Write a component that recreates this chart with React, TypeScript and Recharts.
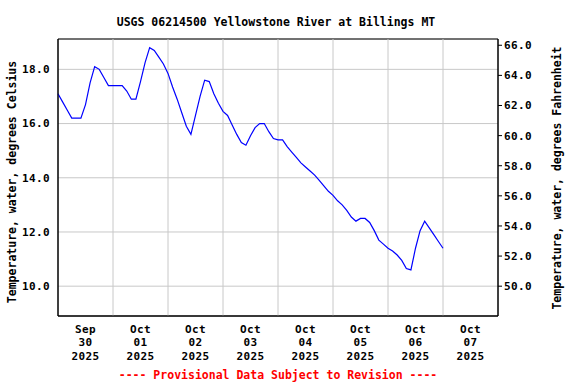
import React from 'react';
import {
  LineChart,
  Line,
  XAxis,
  YAxis,
  CartesianGrid,
  ReferenceLine,
  ReferenceArea,
} from 'recharts';

const title = 'USGS 06214500 Yellowstone River at Billings MT';
const leftLabel = 'Temperature, water, degrees Celsius';
const rightLabel = 'Temperature, water, degrees Fahrenheit';
const footer = '---- Provisional Data Subject to Revision ----';

// water temperature, deg C, every 2 hours from Sep 30 00:00
const tempC = [
  17.1, 16.8, 16.5, 16.2, 16.2, 16.2, 16.7, 17.5, 18.1, 18.0, 17.7, 17.4,
  17.4, 17.4, 17.4, 17.2, 16.9, 16.9, 17.55, 18.25, 18.8, 18.7, 18.45, 18.2,
  17.85, 17.35, 16.9, 16.4, 15.9, 15.6, 16.3, 17.0, 17.6, 17.55, 17.1, 16.75,
  16.45, 16.3, 15.95, 15.6, 15.3, 15.2, 15.55, 15.85, 16.0, 16.0, 15.7, 15.45,
  15.4, 15.4, 15.15, 14.95, 14.75, 14.55, 14.4, 14.25, 14.1, 13.9, 13.7, 13.5,
  13.35, 13.15, 13.0, 12.8, 12.55, 12.4, 12.5, 12.5, 12.35, 12.05, 11.7, 11.55,
  11.4, 11.3, 11.15, 10.95, 10.65, 10.6, 11.4, 12.05, 12.4, 12.15, 11.9, 11.65,
  11.4,
];

const dayMonths = ['Sep', 'Oct', 'Oct', 'Oct', 'Oct', 'Oct', 'Oct', 'Oct'];
const dayNums = ['30', '01', '02', '03', '04', '05', '06', '07'];
const dayYears = ['2025', '2025', '2025', '2025', '2025', '2025', '2025', '2025'];
const noonHours = [12, 36, 60, 84, 108, 132, 156, 180];
const midnightHours = [24, 48, 72, 96, 120, 144, 168];

const celsiusTicks = [10, 12, 14, 16, 18];
const fahrenheitTicks = [50, 52, 54, 56, 58, 60, 62, 64, 66];
const cDomain = [8.9, 19.12];
const fDomain = cDomain.map(c => c * 1.8 + 32);

const data = tempC.map((c, i) => ({ h: i * 2, c }));

const font = '"DejaVu Sans Mono", monospace';
const tickStyle = { fill: '#000', fontSize: 11, fontFamily: font, fontWeight: 'bold', letterSpacing: 0.4 };

const DayTick = (props: any) => {
  const { x, y, payload } = props;
  const i = noonHours.indexOf(payload.value);
  if (i < 0) return null;
  return (
    <text x={x} y={y} textAnchor="middle" fill="#000" fontSize={11} fontFamily={font} fontWeight="bold" letterSpacing={0.4}>
      <tspan x={x} dy={17}>{dayMonths[i]}</tspan>
      <tspan x={x} dy={13.4}>{dayNums[i]}</tspan>
      <tspan x={x} dy={13.4}>{dayYears[i]}</tspan>
    </text>
  );
};

// vertical grid at each midnight, placed with the x axis scale
const midnightLines = ({ xAxis }: any) =>
  xAxis && typeof xAxis.scale === 'function' ? midnightHours.map(h => xAxis.scale(h)) : [];

export default function App() {
  return (
    <div style={{ position: 'absolute', left: 0, top: 0, width: 576, height: 384, background: '#fff' }}>
      <LineChart
        width={576}
        height={384}
        data={data}
        margin={{ top: 39, right: 20, bottom: 8, left: 20 }}
      >
        <CartesianGrid stroke="#c8c8c8" verticalCoordinatesGenerator={midnightLines} />
        <XAxis
          dataKey="h"
          type="number"
          domain={[0, 192]}
          ticks={noonHours}
          tick={<DayTick />}
          tickLine={false}
          tickSize={0}
          tickMargin={0}
          height={60}
          axisLine={{ stroke: '#000' }}
        />
        <YAxis
          domain={cDomain}
          ticks={celsiusTicks}
          tickFormatter={(v: number) => v.toFixed(1)}
          tick={tickStyle}
          tickLine={false}
          tickSize={0}
          tickMargin={8}
          width={38}
          axisLine={{ stroke: '#000' }}
          allowDataOverflow
        />
        <YAxis
          yAxisId="f"
          orientation="right"
          domain={fDomain}
          ticks={fahrenheitTicks}
          tickFormatter={(v: number) => v.toFixed(1)}
          tick={tickStyle}
          tickLine={{ stroke: '#000' }}
          tickSize={4}
          tickMargin={2}
          width={58}
          axisLine={{ stroke: '#000' }}
          allowDataOverflow
        />
        {midnightHours.map(h => (
          <ReferenceLine key={h} x={h} stroke="#c8c8c8" strokeWidth={1} />
        ))}
        <ReferenceArea x1={0} x2={192} y1={cDomain[0]} y2={cDomain[1]} stroke="#000" fill="none" fillOpacity={0} />
        <Line
          type="linear"
          dataKey="c"
          stroke="#0000ff"
          strokeWidth={1.2}
          dot={false}
          isAnimationActive={false}
        />
      </LineChart>
      <svg width={576} height={384} style={{ position: 'absolute', left: 0, top: 0, pointerEvents: 'none' }}>
        <text x={276} y={26} textAnchor="middle" fontSize={11.5} fontFamily={font} fontWeight="bold" fill="#000">
          {title}
        </text>
        <text
          x={12}
          y={182}
          transform="rotate(-90 12 182)"
          textAnchor="middle"
          dominantBaseline="central"
          fontSize={11.5}
          fontFamily={font}
          fontWeight="bold"
          fill="#000"
        >
          {leftLabel}
        </text>
        <text
          x={557}
          y={178}
          transform="rotate(-90 557 178)"
          textAnchor="middle"
          dominantBaseline="central"
          fontSize={11.5}
          fontFamily={font}
          fontWeight="bold"
          fill="#000"
        >
          {rightLabel}
        </text>
        <text x={278} y={379} textAnchor="middle" fontSize={11.5} fontFamily={font} fontWeight="bold" fill="#ff0000">
          {footer}
        </text>
      </svg>
    </div>
  );
}
